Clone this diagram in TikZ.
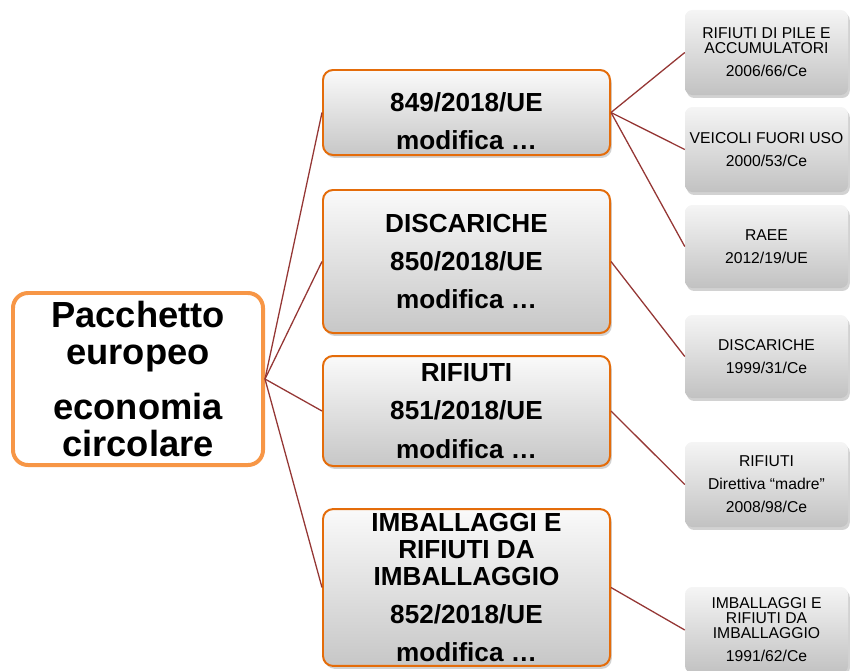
\documentclass[tikz,border=0pt]{standalone}
\usepackage{fontspec}
\setmainfont{Liberation Sans}
\usetikzlibrary{shadows}

\definecolor{rootorange}{HTML}{F79646}
\definecolor{midorange}{HTML}{E46C0A}
\definecolor{linkred}{HTML}{953735}

\begin{document}
\begin{tikzpicture}[x=0.03cm, y=-0.03cm,
  rootbox/.style={draw=rootorange, line width=3.4pt, rounded corners=0.45cm, fill=white,
    minimum width=7.5cm, minimum height=5.16cm, align=center,
    font=\fontsize{31}{31.5}\selectfont\bfseries},
  midbox/.style={draw=midorange, line width=1.7pt, rounded corners=0.3cm,
    top color=black!2, bottom color=black!22,
    drop shadow={shadow xshift=1.5pt, shadow yshift=-2.5pt, opacity=0.25, fill=black!70},
    minimum width=8.61cm, align=center,
    font=\fontsize{22.3}{23}\selectfont\bfseries},
  leafbox/.style={rounded corners=0.22cm, top color=black!4, bottom color=black!24,
    drop shadow={shadow xshift=1.5pt, shadow yshift=-2.5pt, opacity=0.25, fill=black!70},
    minimum width=4.89cm, align=center,
    font=\fontsize{13.4}{12.8}\selectfont},
  link/.style={draw=linkred, line width=1.1pt}]

  % --- AREA ---
  \useasboundingbox (0,0) rectangle (850,670);

  % --- NO CENTRAL ---
  \node[rootbox] (root) at (138,379) {Pacchetto\\europeo\\[15pt]economia\\circolare};

  % --- DIRETTIVE 2018 ---
  \node[midbox, minimum height=2.55cm] (m1) at (466.5,112.5) {};
  \node[align=center, font=\fontsize{22.3}{23}\selectfont\bfseries] (m1txt) at (466.5,121)
    {849/2018/UE\\[9.7pt]modifica …};
  \node[midbox, minimum height=4.29cm] (m2) at (466.5,261.5)
    {DISCARICHE\\[9.7pt]850/2018/UE\\[9.7pt]modifica …};
  \node[midbox, minimum height=3.3cm] (m3) at (466.5,411)
    {RIFIUTI\\[9.7pt]851/2018/UE\\[9.7pt]modifica …};
  \node[midbox, minimum height=4.65cm] (m4) at (466.5,587.5)
    {IMBALLAGGI E\\RIFIUTI DA\\IMBALLAGGIO\\[9.7pt]852/2018/UE\\[9.7pt]modifica …};

  % --- DIRETTIVE MODIFICATE ---
  \node[leafbox, minimum height=2.55cm] (r1) at (766.5,52.5)
    {RIFIUTI DI PILE E\\ACCUMULATORI\\[6.8pt]2006/66/Ce};
  \node[leafbox, minimum height=2.55cm] (r2) at (766.5,149.5)
    {VEICOLI FUORI USO\\[6.8pt]2000/53/Ce};
  \node[leafbox, minimum height=2.49cm] (r3) at (766.5,246.5)
    {RAEE\\[6.8pt]2012/19/UE};
  \node[leafbox, minimum height=2.49cm] (r4) at (766.5,356.5)
    {DISCARICHE\\[6.8pt]1999/31/Ce};
  \node[leafbox, minimum height=2.55cm] (r5) at (766.5,484.5)
    {RIFIUTI\\[6.8pt]Direttiva “madre”\\[6.8pt]2008/98/Ce};
  \node[leafbox, minimum height=2.58cm] (r6) at (766.5,630)
    {IMBALLAGGI E\\RIFIUTI DA\\IMBALLAGGIO\\[6.8pt]1991/62/Ce};

  % --- LIGAÇÕES ---
  \foreach \a/\b in {root/m1, root/m2, root/m3, root/m4,
                     m1/r1, m1/r2, m1/r3, m2/r4, m3/r5, m4/r6} {
    \draw[link] (\a.east) -- (\b.west);
  }

\end{tikzpicture}
\end{document}
